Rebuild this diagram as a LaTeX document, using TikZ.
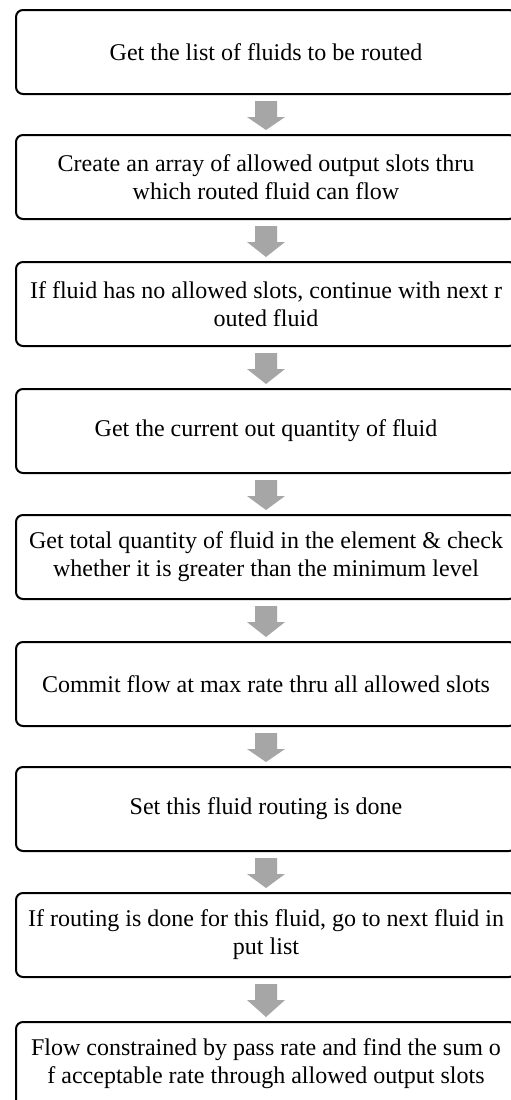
\documentclass[tikz,border=0pt]{standalone}
\usepackage{fontspec}
\setmainfont{Liberation Serif}
\usetikzlibrary{calc}
\definecolor{arrowgray}{RGB}{166,166,166}
\newcommand\flowarrow[2]{%
  \fill[arrowgray] let \p1=(#1.south), \p2=(#2.north) in
    (\x1-11pt,\y1-6pt) -- (\x1+11pt,\y1-6pt) -- (\x1+11pt,\y1-22pt) --
    (\x1+19pt,\y1-22pt) -- (\x1,\y2+4pt) -- (\x1-19pt,\y1-22pt) --
    (\x1-11pt,\y1-22pt) -- cycle;}
\begin{document}
\begin{tikzpicture}[x=1pt,y=-1pt,
  stepbox/.style={draw=black, line width=2pt, rounded corners=7pt,
    minimum width=500pt, minimum height=84pt, align=center,
    font=\fontsize{24}{28}\selectfont, inner sep=0pt}]
\useasboundingbox (0,0) rectangle (511,1100);
\fill[white] (0,0) rectangle (511,1100);
\clip (0,0) rectangle (511,1100);
\node[stepbox] (b1) at (266,52) {Get the list of fluids to be routed};
\node[stepbox] (b2) at (266,177) {Create an array of allowed output slots thru\\which routed fluid can flow};
\node[stepbox] (b3) at (266,304) {If fluid has no allowed slots, continue with next r\\outed fluid};
\node[stepbox] (b4) at (266,431) {Get the current out quantity of fluid};
\node[stepbox] (b5) at (266,557) {Get total quantity of fluid in the element \& check\\whether it is greater than the minimum level};
\node[stepbox] (b6) at (266,684) {Commit flow at max rate thru all allowed slots};
\node[stepbox] (b7) at (266,809) {Set this fluid routing is done};
\node[stepbox] (b8) at (266,935) {If routing is done for this fluid, go to next fluid in\\put list};
\node[stepbox] (b9) at (266,1064) {Flow constrained by pass rate and find the sum o\\f acceptable rate through allowed output slots};
\flowarrow{b1}{b2}
\flowarrow{b2}{b3}
\flowarrow{b3}{b4}
\flowarrow{b4}{b5}
\flowarrow{b5}{b6}
\flowarrow{b6}{b7}
\flowarrow{b7}{b8}
\flowarrow{b8}{b9}
\end{tikzpicture}
\end{document}
